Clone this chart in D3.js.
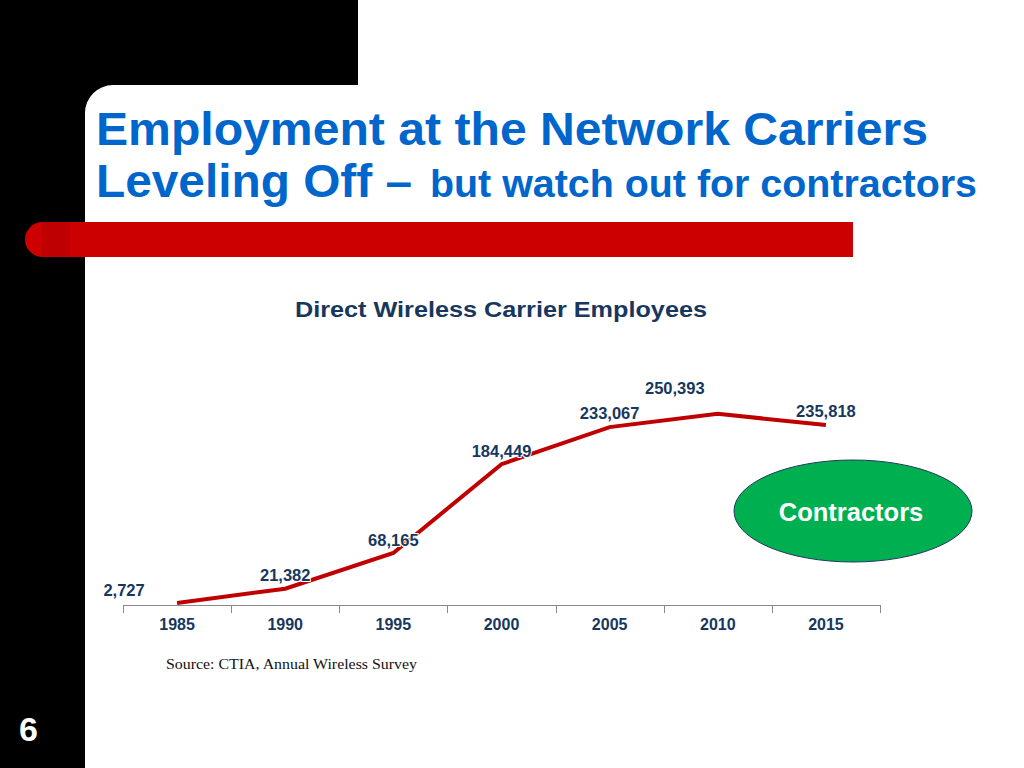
<!DOCTYPE html>
<html><head><meta charset="utf-8">
<script src="https://cdn.jsdelivr.net/npm/d3@7"></script>
<style>html,body{margin:0;padding:0;background:#fff;overflow:hidden}svg{display:block}</style>
</head><body>
<script>
const years = ["1985","1990","1995","2000","2005","2010","2015"];
const employees = [2727, 21382, 68165, 184449, 233067, 250393, 235818];
const labelDx = [-53, 0, 0, 0, 0, -43, 0];  // label nudges
const labelDy = [-13, -14, -13, -13, -14, -26, -14];
const yMax = 300000;

const W = 1024, H = 768;
const FONT = "Liberation Sans, Arial, sans-serif";
const svg = d3.select("body").append("svg").attr("width", W).attr("height", H);

// background frame
svg.append("rect").attr("x",0).attr("y",0).attr("width",W).attr("height",H).attr("fill","#fff");
svg.append("rect").attr("x",0).attr("y",0).attr("width",358).attr("height",85).attr("fill","#000");
svg.append("rect").attr("x",0).attr("y",0).attr("width",85).attr("height",H).attr("fill","#000");
svg.append("path").attr("d","M85,85 L113,85 A28,28 0 0 0 85,113 Z").attr("fill","#000");

// red bar
svg.append("rect").attr("x",25).attr("y",222).attr("width",828).attr("height",35)
  .attr("rx",17.5).attr("ry",17.5).attr("fill","#cc0000");
svg.append("rect").attr("x",835).attr("y",222).attr("width",18).attr("height",35).attr("fill","#cc0000");
svg.append("rect").attr("x",42).attr("y",222).attr("width",28).attr("height",35).attr("fill","#bf0000");

// title
svg.append("text").attr("x",96).attr("y",145).attr("font-family",FONT)
  .attr("font-weight","bold").attr("fill","#0066cc").attr("font-size",47)
  .attr("textLength",832).attr("lengthAdjust","spacingAndGlyphs")
  .text("Employment at the Network Carriers");
svg.append("text").attr("x",96).attr("y",197).attr("font-family",FONT)
  .attr("font-weight","bold").attr("fill","#0066cc").attr("font-size",47)
  .attr("textLength",316).attr("lengthAdjust","spacingAndGlyphs")
  .text("Leveling Off –");
svg.append("text").attr("x",430).attr("y",197).attr("font-family",FONT)
  .attr("font-weight","bold").attr("fill","#0066cc").attr("font-size",39)
  .attr("textLength",547).attr("lengthAdjust","spacingAndGlyphs")
  .text("but watch out for contractors");

// page number
svg.append("text").attr("x",19).attr("y",741).attr("font-family",FONT)
  .attr("font-weight","bold").attr("font-size",34).attr("fill","#fff").text("6");

// chart title
svg.append("text").attr("x",295).attr("y",317)
  .attr("font-family",FONT).attr("font-weight","bold")
  .attr("font-size",22).attr("fill","#17375e")
  .attr("textLength",412).attr("lengthAdjust","spacingAndGlyphs")
  .text("Direct Wireless Carrier Employees");

const x = d3.scaleBand().domain(years).range([123, 880]);
const y = d3.scaleLinear().domain([0, yMax]).range([605, 376]);

const axis = svg.append("g").attr("transform","translate(0,605)")
  .call(d3.axisBottom(x).tickSize(0).tickPadding(0));
axis.select(".domain").attr("stroke","#888").attr("stroke-width",1).attr("d","M123,0.5H880");
axis.selectAll(".tick text").attr("y",25).attr("dy",null)
  .attr("font-family",FONT).attr("font-weight","bold")
  .attr("font-size",16).attr("fill","#17375e");
const bounds = years.map(d => x(d)).concat([x.range()[1]]);
svg.append("g").selectAll("line").data(bounds).join("line")
  .attr("x1",d=>Math.round(d)+0.5).attr("x2",d=>Math.round(d)+0.5)
  .attr("y1",605).attr("y2",613).attr("stroke","#888").attr("stroke-width",1);

const cx = d => x(d) + x.bandwidth()/2;
const line = d3.line().x((d,i)=>cx(years[i])).y(d=>y(d));
svg.append("path").datum(employees).attr("d",line).attr("fill","none")
  .attr("stroke","#c00000").attr("stroke-width",4).attr("stroke-linejoin","miter");

svg.append("g").selectAll("text").data(employees).join("text")
  .attr("x",(d,i)=>cx(years[i]) + labelDx[i])
  .attr("y",(d,i)=>y(d) + labelDy[i] + 6)
  .attr("text-anchor","middle")
  .attr("font-family",FONT).attr("font-weight","bold")
  .attr("font-size",16.5).attr("fill","#17375e")
  .attr("stroke","#fff").attr("stroke-width",2).attr("paint-order","stroke")
  .text(d => d3.format(",")(d));

svg.append("text").attr("x",166).attr("y",669)
  .attr("font-family","Liberation Serif, Times New Roman, serif").attr("font-size",15)
  .attr("textLength",251).attr("lengthAdjust","spacingAndGlyphs")
  .attr("fill","#111").text("Source: CTIA, Annual Wireless Survey");

// contractors ellipse
svg.append("ellipse").attr("cx",853).attr("cy",511).attr("rx",119).attr("ry",51)
  .attr("fill","#00b050").attr("stroke","#1f3864").attr("stroke-width",1);
svg.append("text").attr("x",851).attr("y",521).attr("text-anchor","middle")
  .attr("font-family",FONT).attr("font-weight","bold")
  .attr("font-size",25.5).attr("fill","#fff").text("Contractors");
</script>
</body></html>
